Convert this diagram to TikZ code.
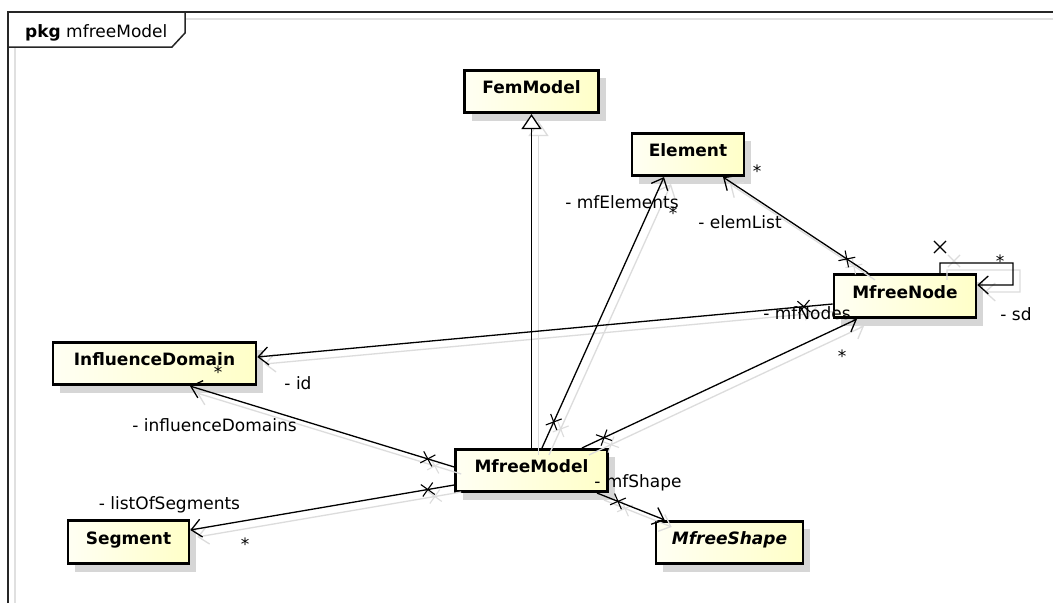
\documentclass[tikz,border=0pt]{standalone}
\usepackage{fontspec}
\setmainfont{DejaVu Sans}
\usetikzlibrary{arrows.meta,shadows,shapes.misc,calc}
\definecolor{boxL}{RGB}{255,255,243}
\definecolor{boxR}{RGB}{255,255,200}
\definecolor{shadowgray}{RGB}{220,220,220}
\definecolor{boxshadow}{RGB}{214,214,214}
\begin{document}
\begin{tikzpicture}[x=1pt,y=-1pt,
  cls/.style={draw=black, line width=2.6pt, left color=boxL, right color=boxR,
    minimum height=42.5pt, inner sep=0pt, text height=12.4pt, text depth=8pt,
    font=\fontsize{17}{20}\selectfont\bfseries,
    drop shadow={shadow xshift=7pt, shadow yshift=-8pt, fill=boxshadow, opacity=1}},
  lbl/.style={inner sep=0pt, font=\fontsize{17}{20}\selectfont},
  assoc/.style={line width=1.3pt, -{Straight Barb[length=10pt,width=18pt]}},
  gen/.style={line width=1.3pt, -{Triangle[open,length=15pt,width=20pt,fill=white]}},
  xm/.style={cross out, draw, minimum size=11pt, inner sep=0pt, line width=1.1pt},
  shd/.style={color=shadowgray, transform canvas={shift={(7pt,-7pt)}}},
  blk/.style={color=black}]
\useasboundingbox (0,0) rectangle (1053,603);
\fill[white] (0,0) rectangle (1053,603);
% frame
\draw[line width=1.5pt, black!12] (15,47) -- (15,603);
\draw[line width=1.5pt, black!12] (186,19) -- (1053,19);
\draw[line width=1.8pt, black!85] (8,603) -- (8,12) -- (1053,12);
\draw[line width=1.5pt, black!85] (8,47) -- (172,47) -- (185,33) -- (185,12);
\node[lbl, anchor=base west] (pkg) at (25,37) {\textbf{pkg} mfreeModel};
% classes
\node[cls, minimum width=134pt] (fem) at (531.5,91.5) {FemModel};
\node[cls, minimum width=112pt] (el) at (688,154.5) {Element};
\node[cls, minimum width=142pt, minimum height=43.5pt] (mn) at (905,296) {MfreeNode};
\node[cls, minimum width=203pt] (id) at (154.5,363.5) {InfluenceDomain};
\node[cls, minimum width=121pt, minimum height=43.5pt] (seg) at (128.5,542) {Segment};
\node[cls, minimum width=152pt] (mm) at (531.5,470.5) {MfreeModel};
\node[cls, minimum width=147pt] (ms) at (729.5,542.5) {\itshape MfreeShape};
% connectors (shadow copy first, then black)
\foreach \st in {shd,blk}{
  \draw[gen,\st] (mm.north) -- (fem.south);
  \draw[assoc,\st] ([xshift=10.5pt]mm.north) -- node[xm,sloped,pos=0.096] (xa\st) {} ([xshift=-24pt]el.south);
  \draw[assoc,\st] ([xshift=-37pt]mn.north) -- node[xm,sloped,pos=0.146] (xb\st) {} ([xshift=35pt]el.south);
  \draw[assoc,\st] ([yshift=-8pt]mn.west) -- node[xm,sloped,pos=0.05] (xc\st) {} ([yshift=6.5pt]id.east);
  \draw[assoc,\st] ([xshift=50.5pt]mm.north) -- node[xm,sloped,pos=0.08] (xd\st) {} ([xshift=-48pt]mn.south);
  \draw[assoc,\st] ([yshift=3.5pt]mm.west) -- node[xm,sloped,pos=0.1] (xe\st) {} ([xshift=35.5pt]id.south);
  \draw[assoc,\st] ([yshift=-14.5pt]mm.west) -- node[xm,sloped,pos=0.1] (xf\st) {} ([yshift=12pt]seg.east);
  \draw[assoc,\st] ([xshift=65.5pt]mm.south) -- node[xm,sloped,pos=0.31] (xg\st) {} ([xshift=10pt]ms.north west);
  \draw[assoc,\st] ([xshift=35pt]mn.north) -- ++(0,-10) -- ++(73,0) -- ++(0,22) -- ([yshift=11pt]mn.east);
  \node[xm,\st] (xh\st) at (940,247) {};
}
% labels
\node[lbl] (l1) at (622,202) {- mfElements};
\node[lbl] (s1) at (673,213) {*};
\node[lbl] (l2) at (740,222) {- elemList};
\node[lbl] (s2) at (757,171) {*};
\node[lbl] (l3) at (807,313) {- mfNodes};
\node[lbl] (s3) at (842,356) {*};
\node[lbl] (l4) at (298,383) {- id};
\node[lbl] (s4) at (218,372) {*};
\node[lbl] (l5) at (214.5,425) {- influenceDomains};
\node[lbl] (l6) at (169.5,505) {- listOfSegments};
\node[lbl] (s6) at (245,544) {*};
\node[lbl] (l7) at (638,483) {- mfShape};
\node[lbl] (s7) at (1000,261) {*};
\node[lbl] (l8) at (1016,314) {- sd};
\end{tikzpicture}
\end{document}
